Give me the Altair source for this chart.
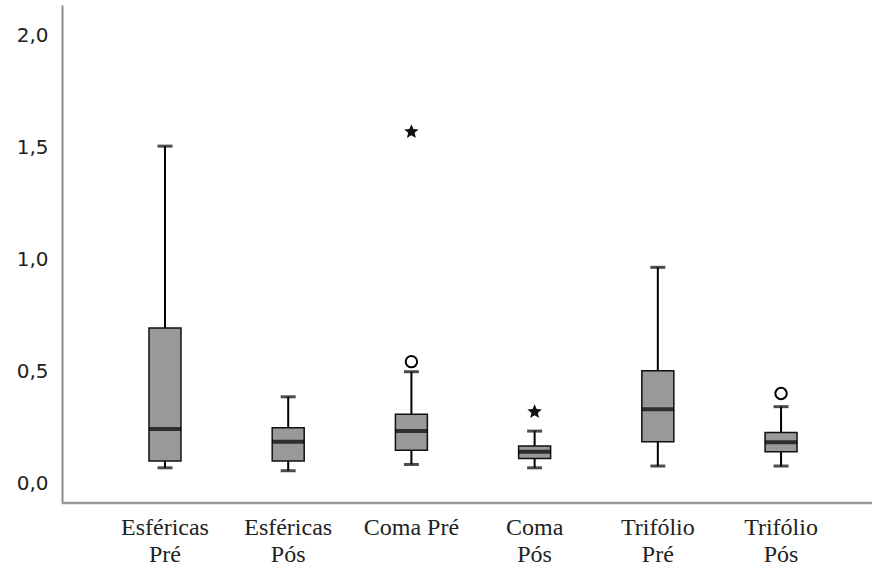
import altair as alt
import pandas as pd

categories = ["Esféricas Pré", "Esféricas Pós", "Coma Pré", "Coma Pós", "Trifólio Pré", "Trifólio Pós"]
whisker_low = [0.068, 0.055, 0.083, 0.068, 0.076, 0.076]
q1 = [0.098, 0.098, 0.147, 0.110, 0.184, 0.140]
median = [0.241, 0.184, 0.232, 0.140, 0.330, 0.182]
q3 = [0.692, 0.247, 0.307, 0.165, 0.501, 0.226]
whisker_high = [1.504, 0.385, 0.497, 0.232, 0.963, 0.341]

outlier_cats = ["Coma Pré", "Trifólio Pós"]
outlier_vals = [0.542, 0.400]
extreme_cats = ["Coma Pré", "Coma Pós"]
extreme_vals = [1.568, 0.318]

box_df = pd.DataFrame({
    "cat": categories, "lo": whisker_low, "q1": q1, "med": median,
    "q3": q3, "hi": whisker_high,
})
out_df = pd.DataFrame({"cat": outlier_cats, "v": outlier_vals})
ext_df = pd.DataFrame({"cat": extreme_cats, "v": extreme_vals})

label_expr = "datum.label == 'Coma Pré' ? datum.label : split(datum.label, ' ')"

x_scale = alt.Scale(domain=categories, paddingInner=0, paddingOuter=0.287, align=0.585)
x_axis = alt.Axis(
    orient="bottom",
    labelAngle=0, labelExpr=label_expr, ticks=False, domain=False,
    labelFont="Liberation Serif",
    labelFontSize=24, labelColor="#222222", labelPadding=12,
    labelLineHeight=27,
)
x = alt.X("cat:N", sort=categories, title=None, scale=x_scale, axis=x_axis)

y_scale = alt.Scale(domain=[-0.089, 2.134], nice=False, zero=False)
y_axis = alt.Axis(
    orient="left",
    values=[0, 0.5, 1.0, 1.5, 2.0], grid=False, ticks=False,
    domainColor="#8c8c8c", domainWidth=2,
    labelExpr="replace(format(datum.value, '.1f'), '.', ',')",
    labelFont="DejaVu Sans", labelFontSize=20, labelColor="#222222",
    labelPadding=14,
)


def yq(field):
    return alt.Y(field, type="quantitative", scale=y_scale, title=None, axis=y_axis)


star_path = ("M0,-1L0.265,-0.364L0.951,-0.309L0.428,0.139L0.588,0.809L0,0.45"
             "L-0.588,0.809L-0.428,0.139L-0.951,-0.309L-0.265,-0.364Z")

base = alt.Chart(box_df)
baseline = alt.Chart(pd.DataFrame({"a": [0]})).mark_rule(color="#999999", strokeWidth=2.5).encode(
    x=alt.value(0), x2=alt.value(812), y=alt.value(498))
whisk = base.mark_rule(color="black", strokeWidth=2).encode(x=x, y=yq("lo"), y2="hi:Q")
cap_hi = base.mark_tick(color="black", size=15, thickness=3).encode(x=x, y=yq("hi"))
cap_lo = base.mark_tick(color="black", size=15, thickness=3).encode(x=x, y=yq("lo"))
box = base.mark_bar(size=32, fill="#999999", stroke="#111111", strokeWidth=1.5).encode(
    x=x, y=yq("q1"), y2="q3:Q")
med = base.mark_tick(color="black", size=32, thickness=4).encode(x=x, y=yq("med"))
outl = alt.Chart(out_df).mark_point(shape="circle", size=130, filled=False, fill="white",
                                     stroke="black", strokeWidth=2, opacity=1).encode(
    x=x, y=yq("v"))
ext = alt.Chart(ext_df).mark_point(shape=star_path, size=230, filled=True, color="#111111", opacity=1).encode(
    x=x, y=yq("v"))

chart = alt.layer(baseline, whisk, cap_hi, cap_lo, box, med, outl, ext).properties(
    width=810, height=498,
    autosize=alt.AutoSizeParams(type="none"),
    padding={"left": 62, "top": 5, "right": 0, "bottom": 66},
    background="white",
).configure_view(stroke=None)

chart.save("out.html", embed_options={"renderer": "svg", "actions": False})
